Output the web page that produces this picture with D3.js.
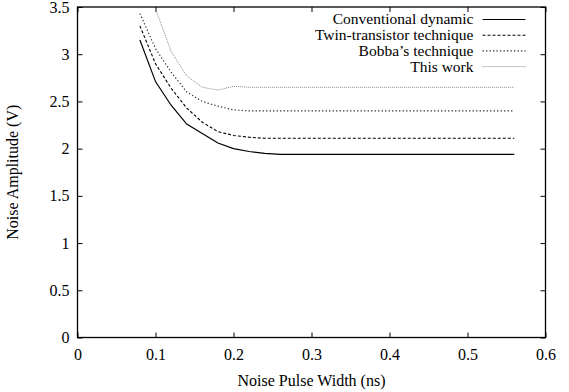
<!DOCTYPE html>
<html>
<head>
<meta charset="utf-8">
<script src="https://cdn.jsdelivr.net/npm/d3@7"></script>
<style>
  body { margin: 0; background: #fff; }
  text { font-family: "Liberation Serif", "Times New Roman", serif; font-size: 16px; fill: #000; }
</style>
</head>
<body>
<div id="mainDiv"></div>
<script>
'use strict';

// dados
var widths = [0.08, 0.10, 0.12, 0.14, 0.16, 0.18, 0.20, 0.22, 0.24, 0.26, 0.30, 0.40, 0.50, 0.56];
var conventional = [3.15, 2.71, 2.46, 2.26, 2.16, 2.06, 2.00, 1.97, 1.95, 1.94, 1.94, 1.94, 1.94, 1.94];
var twinTransistor = [3.30, 2.90, 2.64, 2.43, 2.28, 2.18, 2.14, 2.12, 2.11, 2.11, 2.11, 2.11, 2.11, 2.11];
var bobba = [3.43, 3.06, 2.81, 2.60, 2.50, 2.45, 2.41, 2.40, 2.40, 2.40, 2.40, 2.40, 2.40, 2.40];
var thisWorkX = [0.10, 0.12, 0.14, 0.16, 0.18, 0.20, 0.22, 0.30, 0.40, 0.50, 0.56];
var thisWork = [3.48, 3.03, 2.77, 2.65, 2.62, 2.66, 2.65, 2.65, 2.65, 2.65, 2.65];

var xTicks = [0, 0.1, 0.2, 0.3, 0.4, 0.5, 0.6];
var yTicks = [0, 0.5, 1, 1.5, 2, 2.5, 3, 3.5];
var seriesNames = ['Conventional dynamic', 'Twin-transistor technique', "Bobba\u2019s technique", 'This work'];

var chart = {};
chart.w = 569;
chart.h = 392;
chart.margins = {top: 7, bottom: 54.5, left: 77.5, right: 23.5};
chart.font = '"Liberation Serif", "Times New Roman", serif';
chart.styles = [
    {stroke: '#000', dash: null, width: 1.2},
    {stroke: '#000', dash: '3,2', width: 1.1},
    {stroke: '#222', dash: '1.3,2.2', width: 1.1},
    {stroke: '#888', dash: '1,1', width: 1}
];

var svg = d3.select('#mainDiv').append('svg')
    .attr('width', chart.w)
    .attr('height', chart.h);

var iw = chart.w - chart.margins.left - chart.margins.right;
var ih = chart.h - chart.margins.top - chart.margins.bottom;

var xScale = d3.scaleLinear().domain([0, 0.6]).range([0, iw]);
var yScale = d3.scaleLinear().domain([0, 3.5]).range([ih, 0]);

var g = svg.append('g')
    .attr('transform', 'translate(' + chart.margins.left + ',' + chart.margins.top + ')');

// eixos com ticks para dentro, espelhados
function styleAxis(sel) {
    sel.attr('font-family', null).attr('font-size', null);
    sel.select('.domain').remove();
    sel.selectAll('line').attr('stroke', '#000').attr('stroke-width', 1);
    sel.selectAll('text').style('font-family', chart.font).style('font-size', '16px');
}

g.append('g')
    .attr('transform', 'translate(0,' + ih + ')')
    .call(d3.axisBottom(xScale).tickValues(xTicks).tickSize(-5).tickPadding(11).tickFormat(d3.format('')))
    .call(styleAxis);

g.append('g')
    .call(d3.axisTop(xScale).tickValues(xTicks).tickSize(-5).tickFormat(''))
    .call(styleAxis);

g.append('g')
    .call(d3.axisLeft(yScale).tickValues(yTicks).tickSize(-5).tickPadding(8).tickFormat(d3.format('')))
    .call(styleAxis);

g.append('g')
    .attr('transform', 'translate(' + iw + ',0)')
    .call(d3.axisRight(yScale).tickValues(yTicks).tickSize(-5).tickFormat(''))
    .call(styleAxis);

g.append('rect')
    .attr('width', iw)
    .attr('height', ih)
    .attr('fill', 'none')
    .attr('stroke', '#000')
    .attr('stroke-width', 1.3);

// séries
var series = [
    {xs: widths, ys: conventional},
    {xs: widths, ys: twinTransistor},
    {xs: widths, ys: bobba},
    {xs: thisWorkX, ys: thisWork}
];

var line = d3.line()
    .x(function(d){ return xScale(d[0]); })
    .y(function(d){ return yScale(d[1]); });

series.forEach(function(s, i) {
    var pts = s.xs.map(function(x, k){ return [x, s.ys[k]]; });
    g.append('path')
        .datum(pts)
        .attr('d', line)
        .attr('fill', 'none')
        .attr('stroke', chart.styles[i].stroke)
        .attr('stroke-width', chart.styles[i].width)
        .attr('stroke-dasharray', chart.styles[i].dash);
});

// legenda
var legend = g.append('g').attr('transform', 'translate(' + (iw - 72) + ',12.5)');
seriesNames.forEach(function(name, i) {
    var y = i * 15.7;
    legend.append('text')
        .attr('x', 0)
        .attr('y', y)
        .attr('dy', '0.32em')
        .attr('text-anchor', 'end')
        .style('font-size', '15.5px')
        .text(name);
    legend.append('line')
        .attr('x1', 9).attr('x2', 52)
        .attr('y1', y).attr('y2', y)
        .attr('stroke', chart.styles[i].stroke)
        .attr('stroke-width', chart.styles[i].width)
        .attr('stroke-dasharray', chart.styles[i].dash);
});

// títulos dos eixos
svg.append('text')
    .attr('x', chart.margins.left + iw / 2)
    .attr('y', 386)
    .attr('text-anchor', 'middle')
    .text('Noise Pulse Width (ns)');

svg.append('text')
    .attr('transform', 'translate(18,' + (chart.margins.top + ih / 2) + ') rotate(-90)')
    .attr('text-anchor', 'middle')
    .text('Noise Amplitude (V)');
</script>
</body>
</html>
